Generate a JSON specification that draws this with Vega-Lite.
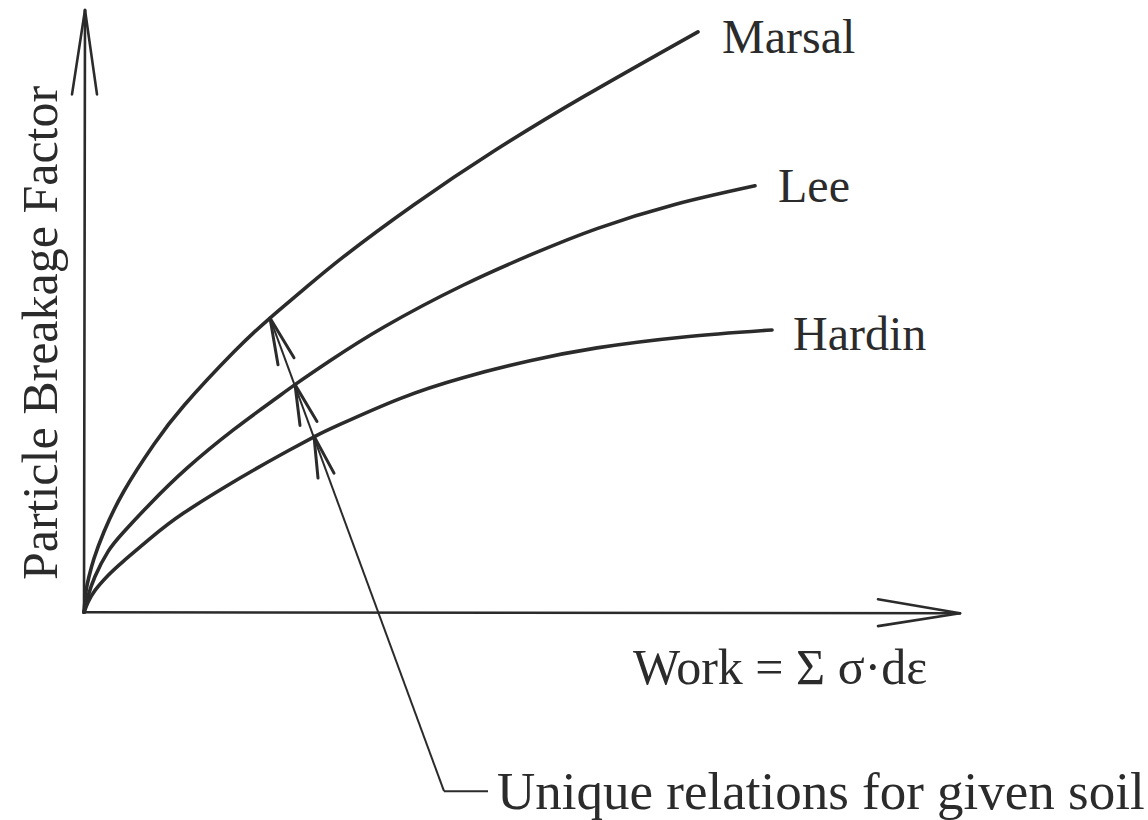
{
  "$schema": "https://vega.github.io/schema/vega-lite/v6.json",
  "width": 1148,
  "height": 820,
  "padding": 0,
  "autosize": {"type": "fit", "contains": "padding"},
  "background": "white",
  "config": {"view": {"stroke": null}, "axis": null},
  "datasets": {
    "curves": [
      {"soil": "Marsal", "work": 0, "pbf": 0}, {"soil": "Marsal", "work": 2, "pbf": 21}, {"soil": "Marsal", "work": 5, "pbf": 36},
      {"soil": "Marsal", "work": 10, "pbf": 54}, {"soil": "Marsal", "work": 20, "pbf": 81}, {"soil": "Marsal", "work": 40, "pbf": 122},
      {"soil": "Marsal", "work": 70, "pbf": 169}, {"soil": "Marsal", "work": 100, "pbf": 208}, {"soil": "Marsal", "work": 150, "pbf": 262},
      {"soil": "Marsal", "work": 186, "pbf": 296}, {"soil": "Marsal", "work": 220, "pbf": 325}, {"soil": "Marsal", "work": 260, "pbf": 358},
      {"soil": "Marsal", "work": 330, "pbf": 410}, {"soil": "Marsal", "work": 410, "pbf": 464}, {"soil": "Marsal", "work": 500, "pbf": 519},
      {"soil": "Marsal", "work": 614, "pbf": 584},
      {"soil": "Lee", "work": 0, "pbf": 0}, {"soil": "Lee", "work": 4, "pbf": 16}, {"soil": "Lee", "work": 11, "pbf": 36},
      {"soil": "Lee", "work": 24, "pbf": 61}, {"soil": "Lee", "work": 39, "pbf": 80}, {"soil": "Lee", "work": 66, "pbf": 109},
      {"soil": "Lee", "work": 103, "pbf": 145}, {"soil": "Lee", "work": 150, "pbf": 184}, {"soil": "Lee", "work": 189, "pbf": 213},
      {"soil": "Lee", "work": 211, "pbf": 229}, {"soil": "Lee", "work": 246, "pbf": 253}, {"soil": "Lee", "work": 300, "pbf": 287},
      {"soil": "Lee", "work": 379, "pbf": 329}, {"soil": "Lee", "work": 450, "pbf": 361}, {"soil": "Lee", "work": 513, "pbf": 386},
      {"soil": "Lee", "work": 590, "pbf": 410}, {"soil": "Lee", "work": 671, "pbf": 429},
      {"soil": "Hardin", "work": 0, "pbf": 0}, {"soil": "Hardin", "work": 4, "pbf": 10}, {"soil": "Hardin", "work": 11, "pbf": 22},
      {"soil": "Hardin", "work": 24, "pbf": 37}, {"soil": "Hardin", "work": 39, "pbf": 51}, {"soil": "Hardin", "work": 66, "pbf": 74},
      {"soil": "Hardin", "work": 100, "pbf": 100}, {"soil": "Hardin", "work": 156, "pbf": 135}, {"soil": "Hardin", "work": 196, "pbf": 158},
      {"soil": "Hardin", "work": 231, "pbf": 177}, {"soil": "Hardin", "work": 256, "pbf": 189}, {"soil": "Hardin", "work": 316, "pbf": 215},
      {"soil": "Hardin", "work": 379, "pbf": 236}, {"soil": "Hardin", "work": 446, "pbf": 253}, {"soil": "Hardin", "work": 513, "pbf": 266},
      {"soil": "Hardin", "work": 600, "pbf": 277}, {"soil": "Hardin", "work": 688, "pbf": 284}
    ],
    "axes": [
      {"part": "y axis", "x1": 0, "y1": 0, "x2": 1, "y2": 606},
      {"part": "y head L", "x1": 1, "y1": 606, "x2": -12, "y2": 521},
      {"part": "y head R", "x1": 1, "y1": 606, "x2": 13, "y2": 521},
      {"part": "x axis", "x1": 0, "y1": 0, "x2": 876, "y2": -1},
      {"part": "x head U", "x1": 876, "y1": -1, "x2": 794, "y2": 13},
      {"part": "x head D", "x1": 876, "y1": -1, "x2": 794, "y2": -14}
    ],
    "leader": [
      {"part": "leader", "x1": 186, "y1": 296, "x2": 360, "y2": -180},
      {"part": "foot", "x1": 360, "y1": -180, "x2": 404, "y2": -180}
    ],
    "heads": [
      {"soil": "Marsal", "x1": 186, "y1": 296, "x2": 194, "y2": 249},
      {"soil": "Marsal", "x1": 186, "y1": 296, "x2": 210, "y2": 256},
      {"soil": "Lee", "x1": 211, "y1": 229, "x2": 216, "y2": 188},
      {"soil": "Lee", "x1": 211, "y1": 229, "x2": 233, "y2": 192},
      {"soil": "Hardin", "x1": 230, "y1": 177, "x2": 234, "y2": 135},
      {"soil": "Hardin", "x1": 230, "y1": 177, "x2": 250, "y2": 140}
    ],
    "names": [
      {"label": "Marsal", "work": 638, "pbf": 563},
      {"label": "Lee", "work": 694, "pbf": 413},
      {"label": "Hardin", "work": 709, "pbf": 264}
    ]
  },
  "layer": [
    {
      "data": {"name": "axes"},
      "mark": {"type": "rule", "color": "#2b2b2b", "strokeWidth": 2.6, "strokeCap": "round"},
      "encoding": {
        "x": {"field": "x1", "type": "quantitative", "scale": {"domain": [-84, 1064], "nice": false, "zero": false}, "axis": null},
        "y": {"field": "y1", "type": "quantitative", "scale": {"domain": [-204, 616], "nice": false, "zero": false}, "axis": null},
        "x2": {"field": "x2"},
        "y2": {"field": "y2"}
      }
    },
    {
      "data": {"name": "leader"},
      "mark": {"type": "rule", "color": "#2b2b2b", "strokeWidth": 2, "strokeCap": "butt"},
      "encoding": {
        "x": {"field": "x1", "type": "quantitative", "scale": {"domain": [-84, 1064], "nice": false, "zero": false}, "axis": null},
        "y": {"field": "y1", "type": "quantitative", "scale": {"domain": [-204, 616], "nice": false, "zero": false}, "axis": null},
        "x2": {"field": "x2"},
        "y2": {"field": "y2"}
      }
    },
    {
      "data": {"name": "heads"},
      "mark": {"type": "rule", "color": "#2b2b2b", "strokeWidth": 3, "strokeCap": "round"},
      "encoding": {
        "x": {"field": "x1", "type": "quantitative", "scale": {"domain": [-84, 1064], "nice": false, "zero": false}, "axis": null},
        "y": {"field": "y1", "type": "quantitative", "scale": {"domain": [-204, 616], "nice": false, "zero": false}, "axis": null},
        "x2": {"field": "x2"},
        "y2": {"field": "y2"}
      }
    },
    {
      "data": {"name": "curves"},
      "mark": {"type": "line", "color": "#2b2b2b", "strokeWidth": 3.6, "interpolate": "natural", "strokeCap": "round"},
      "encoding": {
        "x": {"field": "work", "type": "quantitative", "scale": {"domain": [-84, 1064], "nice": false, "zero": false}, "axis": null},
        "y": {"field": "pbf", "type": "quantitative", "scale": {"domain": [-204, 616], "nice": false, "zero": false}, "axis": null},
        "detail": {"field": "soil"}
      }
    },
    {
      "data": {"name": "names"},
      "mark": {"type": "text", "font": "Liberation Serif", "fontSize": 48, "align": "left", "baseline": "alphabetic", "color": "#2b2b2b"},
      "encoding": {
        "x": {"field": "work", "type": "quantitative", "scale": {"domain": [-84, 1064], "nice": false, "zero": false}, "axis": null},
        "y": {"field": "pbf", "type": "quantitative", "scale": {"domain": [-204, 616], "nice": false, "zero": false}, "axis": null},
        "text": {"field": "label"}
      }
    },
    {
      "data": {"values": [{"label": "Work = Σ σ·dε", "work": 549, "pbf": -72}]},
      "mark": {"type": "text", "font": "Liberation Serif", "fontSize": 50, "align": "left", "baseline": "alphabetic", "color": "#2b2b2b"},
      "encoding": {
        "x": {"field": "work", "type": "quantitative", "scale": {"domain": [-84, 1064], "nice": false, "zero": false}, "axis": null},
        "y": {"field": "pbf", "type": "quantitative", "scale": {"domain": [-204, 616], "nice": false, "zero": false}, "axis": null},
        "text": {"field": "label"}
      }
    },
    {
      "data": {"values": [{"label": "Unique relations for given soil", "work": 413, "pbf": -198}]},
      "mark": {"type": "text", "font": "Liberation Serif", "fontSize": 53, "align": "left", "baseline": "alphabetic", "color": "#2b2b2b"},
      "encoding": {
        "x": {"field": "work", "type": "quantitative", "scale": {"domain": [-84, 1064], "nice": false, "zero": false}, "axis": null},
        "y": {"field": "pbf", "type": "quantitative", "scale": {"domain": [-204, 616], "nice": false, "zero": false}, "axis": null},
        "text": {"field": "label"}
      }
    },
    {
      "data": {"values": [{"label": "Particle Breakage Factor", "work": -27, "pbf": 281}]},
      "mark": {"type": "text", "font": "Liberation Serif", "fontSize": 50, "angle": 270, "align": "center", "baseline": "alphabetic", "color": "#2b2b2b"},
      "encoding": {
        "x": {"field": "work", "type": "quantitative", "scale": {"domain": [-84, 1064], "nice": false, "zero": false}, "axis": null},
        "y": {"field": "pbf", "type": "quantitative", "scale": {"domain": [-204, 616], "nice": false, "zero": false}, "axis": null},
        "text": {"field": "label"}
      }
    }
  ]
}
